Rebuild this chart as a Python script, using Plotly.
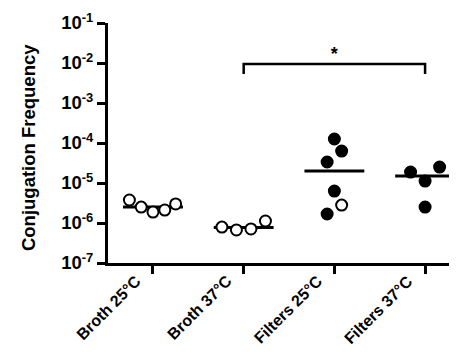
import plotly.graph_objects as go

categories = ["Broth 25°C", "Broth 37°C", "Filters 25°C", "Filters 37°C"]
values = [
    [3.76e-6, 2.5e-6, 1.88e-6, 2.11e-6, 2.99e-6],
    [7.9e-7, 6.7e-7, 7.1e-7, 1.12e-6],
    [1.26e-4, 6.3e-5, 3.35e-5, 6.3e-6, 2.8e-6, 1.68e-6],
    [1.88e-5, 1.12e-5, 2.5e-5, 2.5e-6],
]
jitter = [
    [-0.26, -0.13, 0.0, 0.13, 0.25],
    [-0.24, -0.08, 0.08, 0.24],
    [0.0, 0.08, -0.08, 0.0, 0.08, -0.08],
    [-0.16, 0.0, 0.16, 0.0],
]
open_marker = [
    [True] * 5,
    [True] * 4,
    [False, False, False, False, True, False],
    [False] * 4,
]
medians = [2.5e-6, 7.7e-7, 2.0e-5, 1.5e-5]
tick_vals = [1e-7, 1e-6, 1e-5, 1e-4, 1e-3, 1e-2, 1e-1]
tick_text = ["10<sup>-7</sup>", "10<sup>-6</sup>", "10<sup>-5</sup>", "10<sup>-4</sup>",
             "10<sup>-3</sup>", "10<sup>-2</sup>", "10<sup>-1</sup>"]
bracket_x = [1, 1, 3, 3]
bracket_y = [5.3e-3, 9.4e-3, 9.4e-3, 5.3e-3]
star_pos = (2, 1.55e-2)
y_title = "Conjugation Frequency"

fig = go.Figure()

# median lines
mx, my = [], []
for i, m in enumerate(medians):
    mx += [i - 0.33, i + 0.33, None]
    my += [m, m, None]
fig.add_trace(go.Scatter(x=mx, y=my, mode="lines", line=dict(color="black", width=3),
                         hoverinfo="skip", showlegend=False))

for i, vals in enumerate(values):
    xs = [i + j for j in jitter[i]]
    fills = ["white" if o else "black" for o in open_marker[i]]
    fig.add_trace(go.Scatter(x=xs, y=vals, mode="markers",
                             marker=dict(size=11, color=fills, line=dict(color="black", width=2)),
                             showlegend=False))

fig.add_trace(go.Scatter(x=bracket_x, y=bracket_y, mode="lines",
                         line=dict(color="black", width=2.5), showlegend=False))
fig.add_trace(go.Scatter(x=[star_pos[0]], y=[star_pos[1]], mode="text", text=["<b>*</b>"],
                         textfont=dict(size=18, color="black"), showlegend=False))

annotations = [dict(text="<b>%s</b>" % y_title, xref="paper", yref="paper",
                    x=-0.2266, y=0.479, xanchor="center", yanchor="middle",
                    textangle=-90, showarrow=False, font=dict(size=18.5, color="black"))]
for i, c in enumerate(categories):
    annotations.append(dict(text="<b>%s</b>" % c, xref="x", yref="paper", x=i, y=-0.072,
                            xanchor="right", yanchor="top", xshift=-6, yshift=11, textangle=-45,
                            showarrow=False, font=dict(size=16, color="black")))

font = dict(family="Arial, Liberation Sans, sans-serif", color="black")
fig.update_layout(
    width=457, height=352,
    margin=dict(l=100, r=4, t=15, b=97, autoexpand=False),
    plot_bgcolor="white", paper_bgcolor="white",
    font=font,
    xaxis=dict(range=[-0.496, 3.396], tickvals=[0, 1, 2, 3], showticklabels=False,
               showline=True, linecolor="black", linewidth=3,
               ticks="outside", ticklen=8, tickwidth=3, tickcolor="black", automargin=False,
               showgrid=False, zeroline=False),
    yaxis=dict(type="log", range=[-7, -1], tickvals=tick_vals,
               ticktext=["<b>%s</b>" % t for t in tick_text],
               showline=True, linecolor="black", linewidth=3, automargin=False,
               ticks="outside", ticklen=8, tickwidth=3, tickcolor="black",
               showgrid=False, zeroline=False, tickfont=dict(size=18.5)),
    annotations=annotations,
)

fig.write_html("out.html")
